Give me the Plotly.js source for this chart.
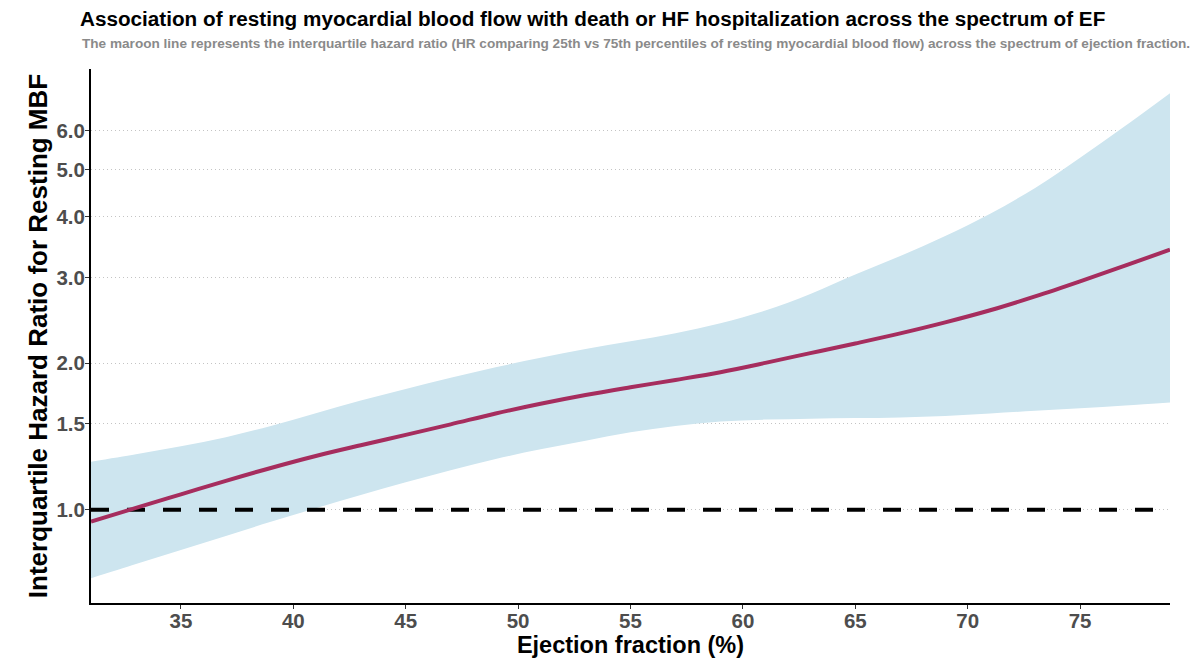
<!DOCTYPE html>
<html>
<head>
<meta charset="utf-8">
<script src="https://cdn.plot.ly/plotly-3.0.1.min.js"></script>
<style>
  html, body { margin: 0; padding: 0; background: #fff; }
  #chart { width: 1200px; height: 658px; }
</style>
</head>
<body>
<div id="chart"></div>
<script>
/***** data *****/
var ef = [31, 33, 35, 37, 39, 41, 43, 45, 47, 49, 51, 53, 55, 57, 59, 61, 63, 65, 67, 69, 71, 73, 75, 77, 79];

var hr = [0.945, 1.008, 1.075, 1.146, 1.218, 1.289, 1.356, 1.424, 1.497, 1.576, 1.650, 1.720, 1.784,
  1.847, 1.916, 2.002, 2.097, 2.195, 2.302, 2.425, 2.568, 2.742, 2.945, 3.172, 3.42];

var hrUpper = [1.255, 1.300, 1.349, 1.409, 1.486, 1.578, 1.675, 1.770, 1.866, 1.961, 2.051, 2.138, 2.218,
  2.304, 2.415, 2.564, 2.773, 3.041, 3.319, 3.648, 4.055, 4.581, 5.284, 6.138, 7.17];

var hrLower = [0.723, 0.773, 0.826, 0.883, 0.944, 1.007, 1.072, 1.138, 1.205, 1.271, 1.330, 1.385, 1.442,
  1.486, 1.517, 1.531, 1.538, 1.542, 1.547, 1.558, 1.576, 1.596, 1.616, 1.637, 1.66];

var refX = [31, 79];
var refY = [1, 1];

var yTicks = [1, 1.5, 2, 3, 4, 5, 6];
var yTickText = ['1.0', '1.5', '2.0', '3.0', '4.0', '5.0', '6.0'];
var xTicks = [35, 40, 45, 50, 55, 60, 65, 70, 75];

/***** traces *****/
var lower = {
  x: ef, y: hrLower,
  type: 'scatter', mode: 'lines',
  line: { width: 0, color: 'rgba(0,0,0,0)', shape: 'spline' },
  hoverinfo: 'skip', showlegend: false
};

var upper = {
  x: ef, y: hrUpper,
  type: 'scatter', mode: 'lines',
  fill: 'tonexty', fillcolor: '#cde5ef',
  line: { width: 0, color: 'rgba(0,0,0,0)', shape: 'spline' },
  hoverinfo: 'skip', showlegend: false
};

var ref = {
  x: refX, y: refY,
  type: 'scatter', mode: 'lines',
  line: { color: '#000', width: 4, dash: '18px,18px' },
  showlegend: false
};

var fit = {
  x: ef, y: hr,
  type: 'scatter', mode: 'lines',
  line: { color: '#a62d5e', width: 4, shape: 'spline' },
  showlegend: false
};

var font = 'Liberation Sans, Arial, sans-serif';

var layout = {
  width: 1200, height: 658,
  margin: { l: 91, r: 30, t: 69, b: 55 },
  paper_bgcolor: '#fff', plot_bgcolor: '#fff',
  font: { family: font },
  title: {
    text: '<b>Association of resting myocardial blood flow with death or HF hospitalization across the spectrum of EF</b>',
    font: { family: font, size: 20.7, color: '#000' },
    xref: 'container', x: 80 / 1200, xanchor: 'left',
    yref: 'container', y: 1 - 19 / 658, yanchor: 'middle'
  },
  annotations: [{
    text: '<b>The maroon line represents the interquartile hazard ratio (HR comparing 25th vs 75th percentiles of resting myocardial blood flow) across the spectrum of ejection fraction.</b>',
    xref: 'paper', x: (80 - 91) / 1079, xanchor: 'left',
    yref: 'paper', y: 1 + (69 - 43) / 534, yanchor: 'middle',
    showarrow: false,
    font: { family: font, size: 13.6, color: '#8a8a8a' }
  }],
  xaxis: {
    range: [31, 79],
    tickvals: xTicks,
    ticks: 'outside', ticklen: 4, tickcolor: '#333', tickwidth: 1,
    ticklabelstandoff: -6,
    tickfont: { family: font, size: 20.5, color: '#4d4d4d', weight: 'bold' },
    showgrid: false, zeroline: false,
    showline: true, linecolor: '#000', linewidth: 2,
    title: {
      text: '<b>Ejection fraction (%)</b>',
      font: { family: font, size: 23.5, color: '#000' },
      standoff: 0
    }
  },
  yaxis: {
    type: 'log',
    range: [Math.log10(0.643), Math.log10(8.04)],
    tickvals: yTicks, ticktext: yTickText,
    ticks: 'outside', ticklen: 4, tickcolor: '#333', tickwidth: 1,
    ticklabelstandoff: -4,
    tickfont: { family: font, size: 20.5, color: '#4d4d4d', weight: 'bold' },
    showgrid: true, gridcolor: '#c4c4c4', gridwidth: 1, griddash: '1px,3px',
    zeroline: false,
    showline: true, linecolor: '#000', linewidth: 2,
    title: {
      text: '<b>Interquartile Hazard Ratio for Resting MBF</b>',
      font: { family: font, size: 26, color: '#000' },
      standoff: 1
    }
  }
};

var config = { displayModeBar: false, staticPlot: true };

var data = [lower, upper, ref, fit];
Plotly.newPlot('chart', data, layout, config);
</script>
</body>
</html>
